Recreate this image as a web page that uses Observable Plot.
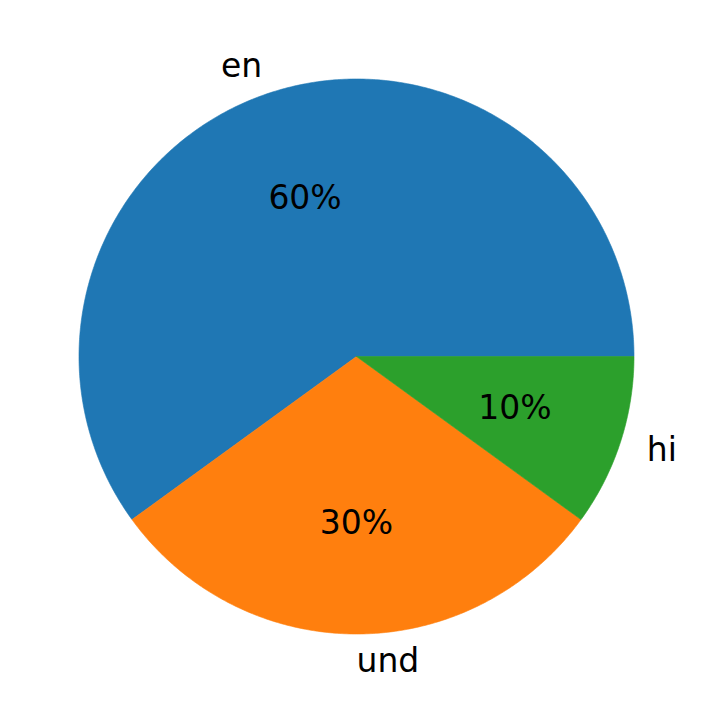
<!DOCTYPE html>
<html>
<head>
<meta charset="utf-8">
<script src="https://cdn.jsdelivr.net/npm/d3@7"></script>
<script src="https://cdn.jsdelivr.net/npm/@observablehq/plot@0.6"></script>
<style>
  html, body { margin: 0; padding: 0; background: #fff; }
</style>
</head>
<body>
<div id="chart"></div>
<script>
const labels = ["en", "und", "hi"];
const shares = [60, 30, 10];
const colors = ["#1f77b4", "#ff7f0e", "#2ca02c"];

const W = 712, H = 713;
const cx = 356, cy = 356, R = 277.5;

const total = d3.sum(shares);
let acc = 0;
const slices = labels.map((lab, i) => {
  const a0 = acc / total * 2 * Math.PI;
  acc += shares[i];
  const a1 = acc / total * 2 * Math.PI;
  return {label: lab, value: shares[i], a0, a1, mid: (a0 + a1) / 2};
});

// wedge outline geometry (center + arc), one closed polygon per slice
const wedgePts = [];
for (const s of slices) {
  wedgePts.push({label: s.label, x: 0, y: 0});
  const n = Math.max(2, Math.ceil((s.a1 - s.a0) / (Math.PI / 360)));
  for (let k = 0; k <= n; k++) {
    const a = s.a0 + (s.a1 - s.a0) * k / n;
    wedgePts.push({label: s.label, x: Math.cos(a), y: Math.sin(a)});
  }
  wedgePts.push({label: s.label, x: 0, y: 0});
}

const outer = slices.map(s => {
  const c = Math.cos(s.mid);
  return {text: s.label, x: 1.1 * c, y: 1.1 * Math.sin(s.mid), anchor: c >= -1e-9 ? "start" : "end"};
});
const inner = slices.map(s => ({text: `${s.value}%`, x: 0.6 * Math.cos(s.mid), y: 0.6 * Math.sin(s.mid)}));

const chart = Plot.plot({
  width: W,
  height: H,
  margin: 0,
  style: {background: "#fff"},
  x: {domain: [-cx / R, (W - cx) / R], axis: null},
  y: {domain: [-(H - cy) / R, cy / R], axis: null},
  color: {domain: labels, range: colors},
  marks: [
    Plot.line(wedgePts, {x: "x", y: "y", z: "label", fill: "label", stroke: "label", strokeWidth: 0.6, curve: "linear"}),
    Plot.text(outer.filter(d => d.anchor === "start"), {x: "x", y: "y", text: "text", textAnchor: "start", fontSize: 33, fill: "black", fontFamily: "DejaVu Sans"}),
    Plot.text(outer.filter(d => d.anchor === "end"), {x: "x", y: "y", text: "text", textAnchor: "end", fontSize: 33, fill: "black", fontFamily: "DejaVu Sans"}),
    Plot.text(inner, {x: "x", y: "y", text: "text", textAnchor: "middle", fontSize: 33, fill: "black", fontFamily: "DejaVu Sans"})
  ]
});
document.getElementById("chart").appendChild(chart);
</script>
</body>
</html>
